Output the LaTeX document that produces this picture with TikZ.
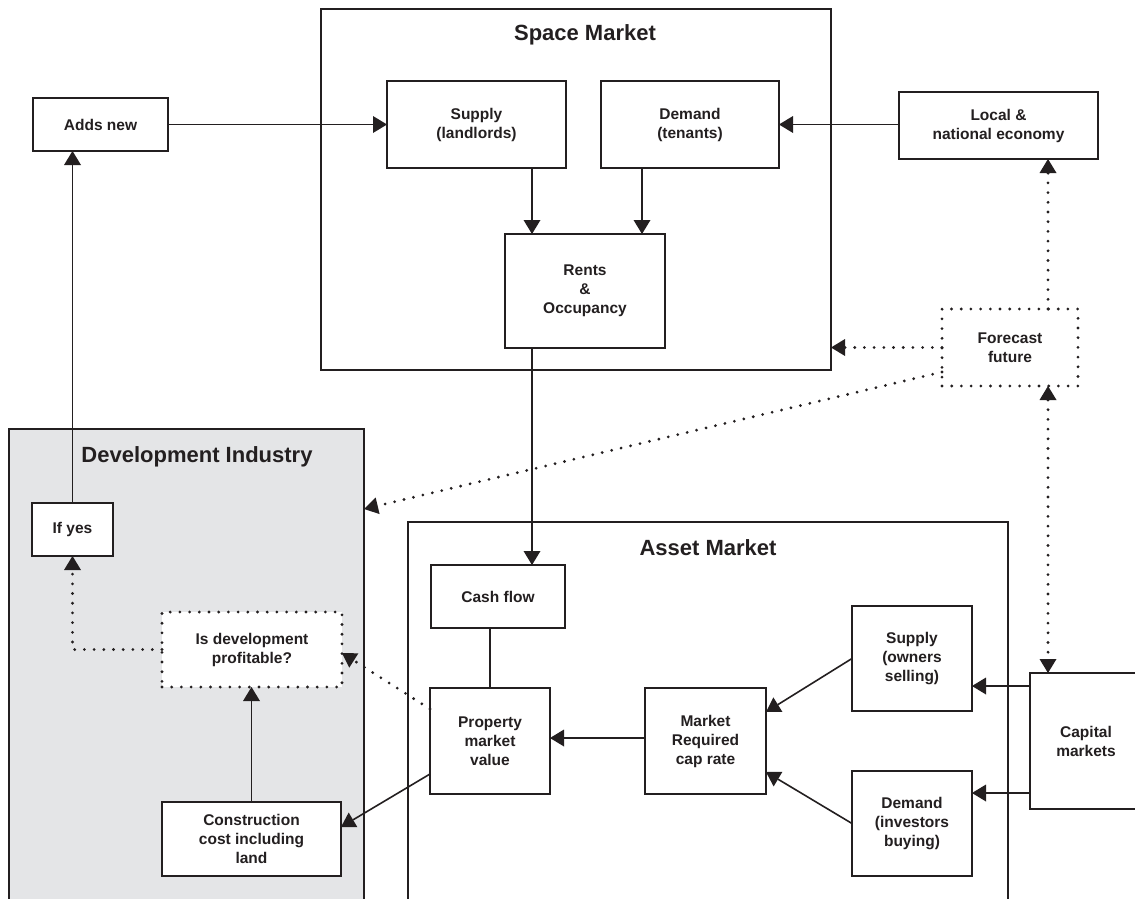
\documentclass[tikz,border=0pt]{standalone}
\usepackage{fontspec}
\setmainfont{Liberation Sans}
\usetikzlibrary{arrows.meta,calc}
\definecolor{ink}{RGB}{35,31,32}
\definecolor{devgray}{RGB}{228,229,231}
\tikzset{
  box/.style={draw=ink, line width=1.6pt, fill=white, inner sep=0pt, outer sep=0pt,
    align=center, font=\fontsize{15.5}{19}\selectfont\bfseries, text=ink},
  dotbox/.style={box, line width=3.1pt, line cap=round, dash pattern=on 0pt off 9.7pt},
  region/.style={draw=ink, line width=1.6pt, inner sep=0pt, outer sep=0pt},
  titletext/.style={font=\fontsize{22}{26}\selectfont\bfseries, text=ink, inner sep=0pt},
  tipstyle/.style={-{Triangle[length=14pt,width=17pt,line width=0pt]}},
  arr/.style={draw=ink, line width=1.6pt, tipstyle},
  plainline/.style={draw=ink, line width=1.6pt},
  dotarr/.style={draw=ink, line width=3.1pt, line cap=round, dash pattern=on 0pt off 9.7pt, tipstyle},
  dotdbl/.style={draw=ink, line width=3.1pt, line cap=round, dash pattern=on 0pt off 9.7pt,
    {Triangle[length=14pt,width=17pt,line width=0pt]}-{Triangle[length=14pt,width=17pt,line width=0pt]}}
}
\begin{document}
\begin{tikzpicture}[x=1pt,y=-1pt]
\useasboundingbox (0,0) rectangle (1135,899);
% regions
\node[region, minimum width=510pt, minimum height=361pt] (space) at (576,189.5) {};
\node[region, fill=devgray, minimum width=355pt, minimum height=481pt] (dev) at (186.5,669.5) {};
\node[region, minimum width=600pt, minimum height=388pt] (asset) at (708,716) {};
\node[titletext] (spacetitle) at (585,35) {Space Market};
\node[titletext] (devtitle) at (197,457) {Development Industry};
\node[titletext] (assettitle) at (708,548) {Asset Market};
% boxes
\node[box, minimum width=135pt, minimum height=53pt] (addsnew) at (100.5,124.5) {Adds new};
\node[box, minimum width=179pt, minimum height=87pt] (supply) at (476.5,124.5) {Supply\\(landlords)};
\node[box, minimum width=178pt, minimum height=87pt] (demand) at (690,124.5) {Demand\\(tenants)};
\node[box, minimum width=160pt, minimum height=114pt] (rents) at (585,291) {Rents\\\&\\Occupancy};
\node[box, minimum width=199pt, minimum height=67pt] (local) at (998.5,125.5) {Local \&\\national economy};
\node[dotbox, minimum width=136pt, minimum height=77pt] (forecast) at (1010,347.5) {Forecast\\future};
\node[box, minimum width=81pt, minimum height=53pt] (ifyes) at (72.5,529.5) {If yes};
\node[dotbox, minimum width=180pt, minimum height=75pt] (isdev) at (252,649.5) {Is development\\profitable?};
\node[box, minimum width=179pt, minimum height=74pt] (constr) at (251.5,839) {Construction\\cost including\\land};
\node[box, minimum width=134pt, minimum height=63pt] (cashflow) at (498,596.5) {Cash flow};
\node[box, minimum width=120pt, minimum height=106pt] (property) at (490,741) {Property\\market\\value};
\node[box, minimum width=121pt, minimum height=106pt] (caprate) at (705.5,741) {Market\\Required\\cap rate};
\node[box, minimum width=120pt, minimum height=105pt] (supown) at (912,658.5) {Supply\\(owners\\selling)};
\node[box, minimum width=120pt, minimum height=105pt] (demin) at (912,823.5) {Demand\\(investors\\buying)};
\node[box, minimum width=112pt, minimum height=136pt] (capital) at (1086,741) {Capital\\markets};
% solid connectors
\draw[arr] (addsnew.east) -- (supply.west);
\draw[arr] (local.west |- demand.east) -- (demand.east);
\draw[arr] ([xshift=55.5pt]supply.south) -- ([xshift=55.5pt]supply.south |- rents.north);
\draw[arr] ([xshift=-48pt]demand.south) -- ([xshift=-48pt]demand.south |- rents.north);
\draw[arr] ([xshift=-53pt]rents.south) -- ([xshift=-53pt]rents.south |- cashflow.north);
\draw[plainline] (property.north |- cashflow.south) -- (property.north);
\draw[arr] ([yshift=3pt]caprate.west) -- ([yshift=3pt]caprate.west -| property.east);
\draw[arr] (supown.west) -- ([yshift=29pt]caprate.east);
\draw[arr] (demin.west) -- ([yshift=-31pt]caprate.east);
\draw[arr] ([yshift=55pt]capital.west) -- ([yshift=55pt]capital.west -| supown.east);
\draw[arr] ([yshift=-52pt]capital.west) -- ([yshift=-52pt]capital.west -| demin.east);
\draw[arr] (ifyes.north) -- (ifyes.north |- addsnew.south);
\draw[arr] (constr.north) -- (constr.north |- isdev.south);
\draw[arr] ([yshift=-33pt]property.west) -- ([yshift=12pt]constr.east);
% dotted connectors
\draw[dotarr] (isdev.west) -| (ifyes.south);
\draw[dotarr] ([yshift=32pt]property.west) -- ([yshift=-3.5pt]isdev.east);
\draw[dotarr] ([xshift=38pt]forecast.north) -- ([xshift=38pt]forecast.north |- local.south);
\draw[dotarr] (forecast.west) -- (forecast.west -| space.east);
\draw[dotarr] ([yshift=-24.5pt]forecast.west) -- ([yshift=-80pt]dev.north east);
\draw[dotdbl] ([xshift=38pt]forecast.south) -- ([xshift=38pt]forecast.south |- capital.north);
\end{tikzpicture}
\end{document}
